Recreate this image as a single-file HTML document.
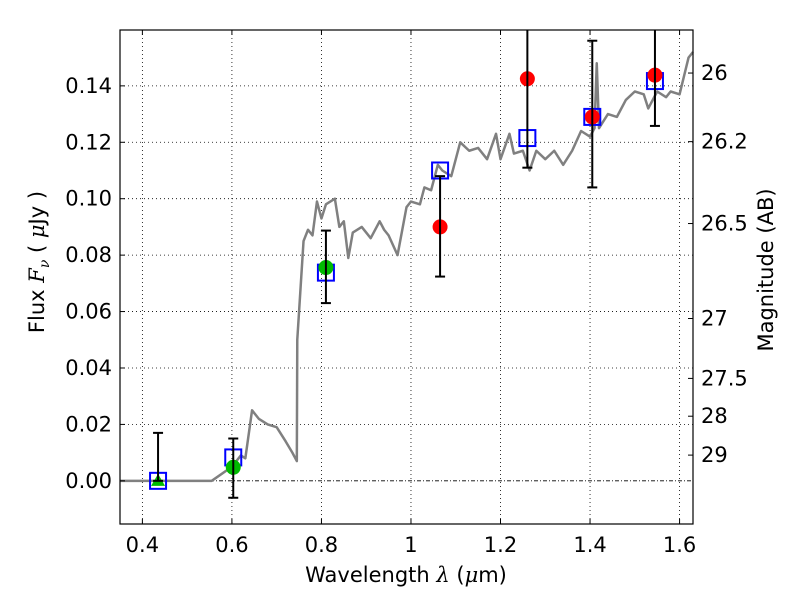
<!DOCTYPE html>
<html><head><meta charset="utf-8"><style>
html,body{margin:0;padding:0;background:#fff;}
svg{display:block;font-family:"DejaVu Sans","Liberation Sans",sans-serif;}
</style></head><body>
<svg id="chart" width="800" height="600" viewBox="0 0 800 600">
<rect width="800" height="600" fill="#fff"/>
<g id="grid"></g>
<g id="spec"></g>
<g id="marks"></g>
<rect x="120" y="30" width="573" height="494" fill="none" stroke="#000" stroke-width="1.2"/>
<g id="axes"></g>
<text x="406" y="582" font-size="21" text-anchor="middle">Wavelength  <tspan font-style="italic" font-family="DejaVu Serif,serif">λ</tspan> (<tspan font-style="italic" font-family="DejaVu Serif,serif">μ</tspan>m)</text>
<text transform="translate(44,262) rotate(-90)" font-size="21" text-anchor="middle">Flux  <tspan font-style="italic" font-family="DejaVu Serif,serif">F<tspan font-size="14" dy="5">ν</tspan></tspan><tspan dy="-5">  (  </tspan><tspan font-style="italic" font-family="DejaVu Serif,serif">μ</tspan>Jy )</text>
<text transform="translate(773,270) rotate(-90)" font-size="21" text-anchor="middle">Magnitude (AB)</text>
</svg>
<script>
const xTicks=[0.4,0.6,0.8,1.0,1.2,1.4,1.6];
const xTickLabels=["0.4","0.6","0.8","1","1.2","1.4","1.6"];
const yTicks=[0,0.02,0.04,0.06,0.08,0.10,0.12,0.14];
const yTickLabels=["0.00","0.02","0.04","0.06","0.08","0.10","0.12","0.14"];
const magTicks=[26,26.2,26.5,27,27.5,28,29];
const magTickLabels=["26","26.2","26.5","27","27.5","28","29"];
const specWave=[0.35,0.555,0.6,0.62,0.63,0.645,0.66,0.68,0.70,0.72,0.735,0.745,0.746,0.76,0.77,0.78,0.79,0.80,0.81,0.83,0.84,0.85,0.86,0.87,0.89,0.91,0.93,0.94,0.95,0.97,0.99,1.00,1.02,1.03,1.045,1.06,1.07,1.09,1.11,1.13,1.15,1.17,1.19,1.2,1.22,1.23,1.25,1.265,1.28,1.30,1.32,1.34,1.36,1.38,1.40,1.41,1.415,1.42,1.44,1.46,1.48,1.50,1.52,1.53,1.55,1.57,1.58,1.60,1.62,1.63];
const specFlux=[0,0,0.005,0.009,0.008,0.025,0.022,0.02,0.019,0.014,0.010,0.007,0.05,0.085,0.089,0.087,0.099,0.093,0.098,0.100,0.090,0.092,0.079,0.088,0.090,0.086,0.092,0.089,0.087,0.080,0.097,0.099,0.098,0.104,0.103,0.112,0.110,0.108,0.120,0.117,0.118,0.114,0.123,0.114,0.123,0.116,0.117,0.110,0.117,0.114,0.117,0.112,0.117,0.124,0.122,0.125,0.148,0.125,0.130,0.129,0.135,0.138,0.137,0.132,0.138,0.136,0.138,0.137,0.150,0.152];
const boxWave=[0.435,0.603,0.81,1.065,1.26,1.405,1.545];
const boxFlux=[0.0,0.0083,0.0738,0.110,0.1215,0.129,0.1417];
const obsWave=[0.435,0.603,0.81,1.065,1.26,1.405,1.545];
const obsFlux=[0.0,0.0048,0.0756,0.090,0.1425,0.129,0.1438];
const errLow=[0.0,-0.006,0.063,0.0724,0.111,0.104,0.1258];
const errHigh=[0.017,0.015,0.0887,0.108,0.175,0.156,0.175];
const obsType=["tri","green","green","red","red","red","red"];

const L=120,R=693,T=30,B=524,x0=0.35,x1=1.63,y0=-0.0153,y1=0.1598;
const X=v=>L+(v-x0)/(x1-x0)*(R-L);
const Y=v=>B-(v-y0)/(y1-y0)*(B-T);
const NS="http://www.w3.org/2000/svg";
function mk(tag,attrs,parent){const e=document.createElementNS(NS,tag);for(const k in attrs)e.setAttribute(k,attrs[k]);parent.appendChild(e);return e;}
const grid=document.getElementById('grid'),axes=document.getElementById('axes'),spec=document.getElementById('spec'),marks=document.getElementById('marks');
xTicks.forEach((t,i)=>{
 const g=mk('line',{x1:X(t),x2:X(t),y1:T,y2:B,stroke:'#000','stroke-width':0.8,'stroke-dasharray':'1,3'},grid);
 
 const a=mk('line',{x1:X(t),x2:X(t),y1:B,y2:B-5,stroke:'#000'},axes);
 const b=mk('line',{x1:X(t),x2:X(t),y1:T,y2:T+5,stroke:'#000'},axes);
 const tx=mk('text',{x:X(t),y:B+28,'font-size':21,'text-anchor':'middle'},axes);tx.textContent=xTickLabels[i];
 
});
yTicks.forEach((t,i)=>{
 const g=mk('line',{x1:L,x2:R,y1:Y(t),y2:Y(t),stroke:'#000','stroke-width':0.8,'stroke-dasharray':t===0?'4,2,1,2':'1,3'},grid);
 
 const a=mk('line',{x1:L,x2:L+5,y1:Y(t),y2:Y(t),stroke:'#000'},axes);
 const tx=mk('text',{x:L-8,y:Y(t)+7,'font-size':21,'text-anchor':'end'},axes);tx.textContent=yTickLabels[i];
 
});
magTicks.forEach((m,i)=>{
 const f=Math.pow(10,(23.9-m)/2.5);
 const a=mk('line',{x1:R-5,x2:R,y1:Y(f),y2:Y(f),stroke:'#000'},axes);
 const tx=mk('text',{x:R+8,y:Y(f)+7,'font-size':21},axes);tx.textContent=magTickLabels[i];
 
});
const p=mk('polyline',{points:specWave.map((w,i)=>X(w)+','+Y(specFlux[i])).join(' '),fill:'none',stroke:'#808080','stroke-width':2.5,'stroke-linejoin':'round'},spec);

boxWave.forEach((w,i)=>{
 const r=mk('rect',{x:X(w)-8,y:Y(boxFlux[i])-8,width:16,height:16,fill:'none',stroke:'#0000ff','stroke-width':2},marks);
 
});
obsWave.forEach((w,i)=>{
 const cx=X(w),cy=Y(obsFlux[i]);
 let m;
 if(obsType[i]==='tri'){m=mk('polygon',{points:`${cx},${cy-7} ${cx-7},${cy+5} ${cx+7},${cy+5}`,fill:'#00bb00'},marks);}
 else{m=mk('circle',{cx:cx,cy:cy,r:7.5,fill:obsType[i]==='green'?'#00bb00':'#ff0000'},marks);}
 
 const yl=Math.max(Y(errHigh[i]),T),yh=Y(errLow[i]);
 const e=mk('line',{x1:cx,x2:cx,y1:yl,y2:yh,stroke:'#000','stroke-width':2},marks);
 
 [Y(errHigh[i]),yh].forEach(yy=>{if(yy>=T){const c=mk('line',{x1:cx-5,x2:cx+5,y1:yy,y2:yy,stroke:'#000','stroke-width':2},marks);
 }});
});
</script>
</body></html>
